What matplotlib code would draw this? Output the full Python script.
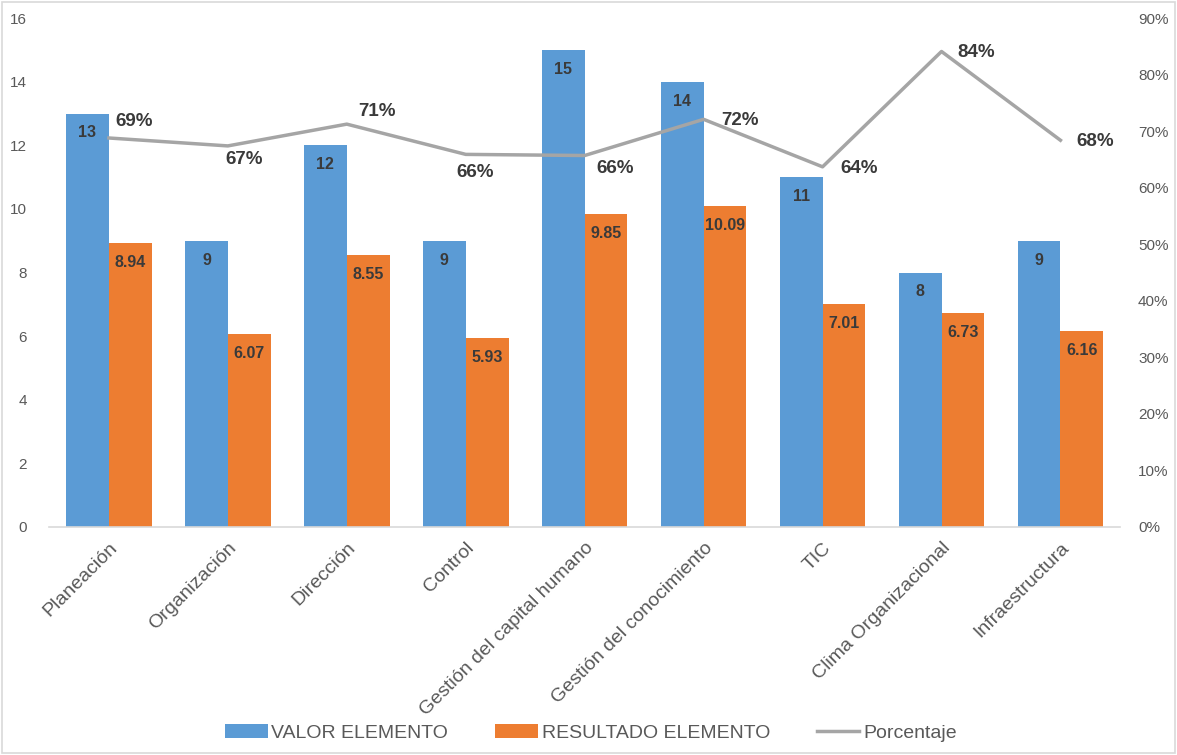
import numpy as np
import matplotlib.pyplot as plt
from matplotlib.patches import Rectangle
from matplotlib.ticker import PercentFormatter

categories = ['Planeación', 'Organización', 'Dirección', 'Control',
              'Gestión del capital humano', 'Gestión del conocimiento',
              'TIC', 'Clima Organizacional', 'Infraestructura']
valor = [13, 9, 12, 9, 15, 14, 11, 8, 9]
resultado = [8.94, 6.07, 8.55, 5.93, 9.85, 10.09, 7.01, 6.73, 6.16]
porcentaje = [0.688, 0.674, 0.7125, 0.659, 0.657, 0.721, 0.637, 0.841, 0.684]

# label offsets (points) for the percent labels, placed by hand in the original
pct_offsets = [(18, 12), (12, -10), (22, 9), (7, -13), (22, -9),
               (26, -1), (26, -1), (25, -1), (25, -1)]

BLUE = '#5B9BD5'
ORANGE = '#ED7D31'
GRAY = '#A5A5A5'
TXT = '#595959'
LBL = '#3A3A3A'

plt.rcParams['font.family'] = ['Liberation Sans', 'DejaVu Sans']

fig = plt.figure(figsize=(11.77, 7.55), dpi=100)
ax = fig.add_axes([0.042, 0.302, 0.9095, 0.674])
ax2 = ax.twinx()

x = np.arange(len(categories))
w = 0.36
b1 = ax.bar(x - w / 2, valor, w, color=BLUE, label='VALOR ELEMENTO', zorder=2)
b2 = ax.bar(x + w / 2, resultado, w, color=ORANGE, label='RESULTADO ELEMENTO', zorder=2)

for rects, vals in ((b1, valor), (b2, resultado)):
    for r, v in zip(rects, vals):
        ax.annotate('{:g}'.format(v), (r.get_x() + r.get_width() / 2, r.get_height()),
                    xytext=(0, -14), textcoords='offset points', ha='center', va='center',
                    fontsize=11.5, fontweight='bold', color=LBL)

ln, = ax2.plot(x, porcentaje, color=GRAY, lw=2.5, label='Porcentaje', zorder=3)
for xi, p, off in zip(x, porcentaje, pct_offsets):
    ax2.annotate('{:.0%}'.format(p), (xi, p), xytext=off, textcoords='offset points',
                 ha='center', va='center', fontsize=13.5, fontweight='bold', color=LBL)

ax.set_xlim(-0.5, len(categories) - 0.5)
ax.set_ylim(0, 16)
ax.set_yticks(range(0, 17, 2))
ax2.set_ylim(0, 0.9)
ax2.set_yticks(np.arange(0, 0.91, 0.1))
ax2.yaxis.set_major_formatter(PercentFormatter(1.0, decimals=0))

ax.set_xticks(x)
ax.set_xticklabels(categories, rotation=45, ha='right', rotation_mode='anchor',
                   color=TXT)
for a in (ax, ax2):
    for s in a.spines.values():
        s.set_visible(False)
    a.tick_params(length=0, labelsize=11, labelcolor=TXT)
ax.tick_params(axis='y', pad=16)
ax2.tick_params(axis='y', pad=13)
ax.tick_params(axis='x', pad=9, labelsize=14)
ax.spines['bottom'].set_visible(True)
ax.spines['bottom'].set_color('#D9D9D9')
ax.spines['bottom'].set_linewidth(1.2)

handles = [b1, b2, ln]
fig.legend(handles, [h.get_label() for h in handles], loc='center',
           bbox_to_anchor=(0.502, 0.029), ncol=3, frameon=False, fontsize=14,
           labelcolor=TXT, handlelength=2.2, handleheight=0.7, handletextpad=0.2,
           columnspacing=2.4)

fig.patches.append(Rectangle((0.002, 0.002), 0.996, 0.995, transform=fig.transFigure,
                             fill=False, edgecolor='#D9D9D9', lw=1.2))

fig.savefig('out.png', dpi=100)
